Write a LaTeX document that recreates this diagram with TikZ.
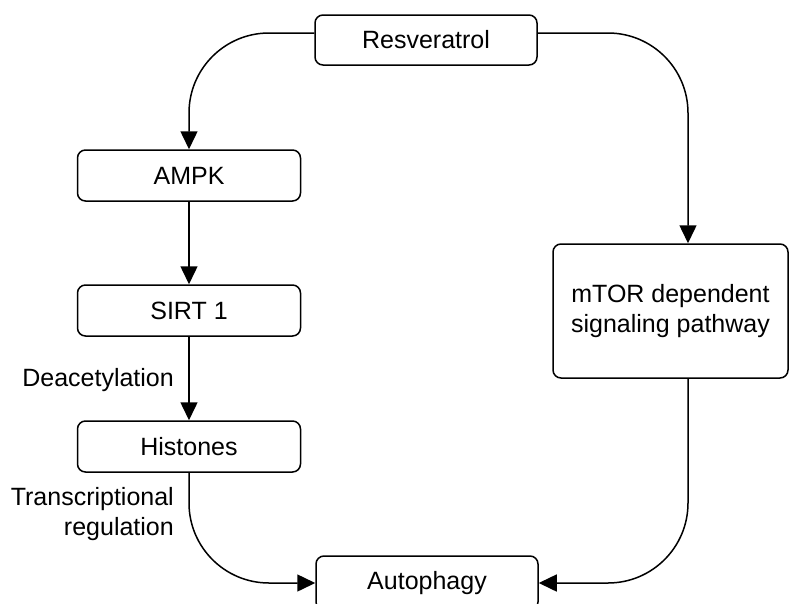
\documentclass[tikz,border=0pt]{standalone}
\usepackage{fontspec}
\setmainfont{Liberation Sans}
\usetikzlibrary{arrows.meta,calc}

\tikzset{
	box/.style={draw=black, line width=1.5pt, rounded corners=8pt, minimum height=51pt, inner sep=0pt, align=center, font=\fontsize{25}{30}\selectfont},
	lbl/.style={inner sep=0pt, align=right, font=\fontsize{25}{30}\selectfont},
	arr/.style={-{Triangle[length=18pt,width=17pt]}, line width=1.5pt},
}

\begin{document}
\begin{tikzpicture}[x=1pt,y=-1pt]
	\useasboundingbox (0,0) rectangle (790,603);
\node[box, minimum width=222pt, minimum height=50pt] (res) at (426,40) {Resveratrol};%top
\node[box, minimum width=223pt] (ampk) at (189,175.5) {AMPK};%left column
\node[box, minimum width=223pt] (sirt) at (189,310.5) {SIRT 1};
\node[box, minimum width=223pt] (hist) at (189,446.5) {Histones};
\node[box, minimum width=235pt, minimum height=134pt] (mtor) at (670.5,311) {mTOR dependent\\signaling pathway};%right column
\node[box, minimum width=222pt, minimum height=54pt] (auto) at (427,583) {Autophagy};%bottom

\node[lbl, anchor=east] (deac) at (174,380) {Deacetylation};
\node[lbl, anchor=east] (trans) at (174,514) {Transcriptional\\regulation};

\draw[arr, rounded corners=80pt] ($(res.west)+(0,-7)$) -| (ampk.north);
\draw[arr, rounded corners=80pt] ($(res.east)+(0,-7)$) -| ($(mtor.north)+(17.5,0)$);
\draw[arr] (ampk) -- (sirt);
\draw[arr] (sirt) -- (hist);
\draw[arr, rounded corners=80pt] (hist.south) |- (auto.west);
\draw[arr, rounded corners=80pt] ($(mtor.south)+(17.5,0)$) |- (auto.east);

	\end{tikzpicture}
\end{document}
